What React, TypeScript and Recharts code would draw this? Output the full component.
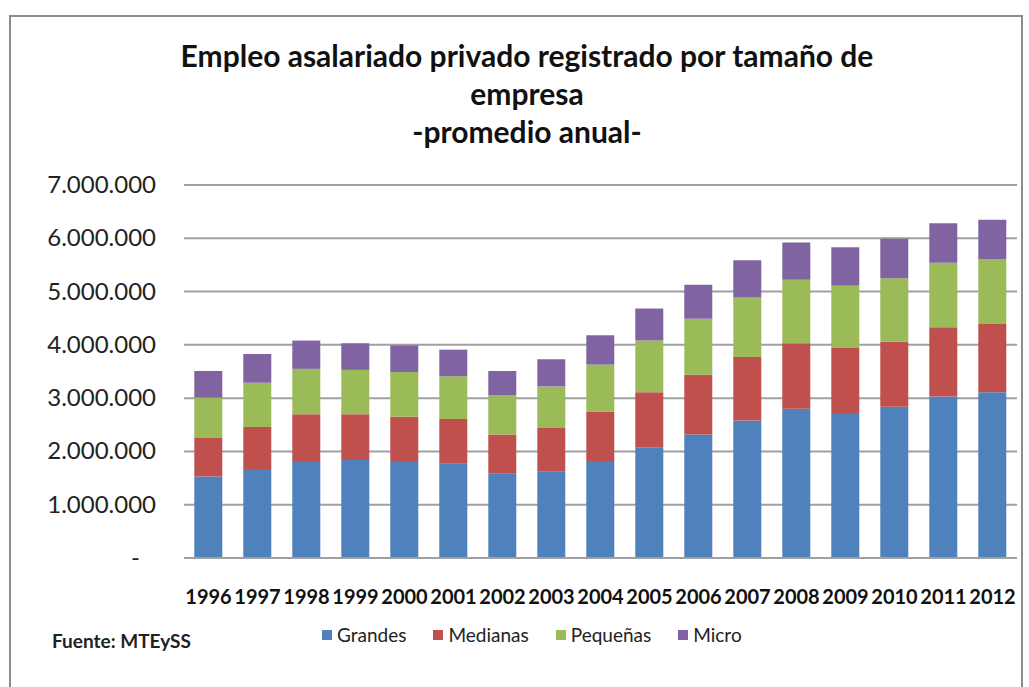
import { BarChart, Bar, XAxis, YAxis, CartesianGrid, Legend } from 'recharts'

const YEARS = ['1996', '1997', '1998', '1999', '2000', '2001', '2002', '2003', '2004', '2005', '2006', '2007', '2008', '2009', '2010', '2011', '2012']
const GRANDES = [1530000, 1670000, 1820000, 1840000, 1820000, 1770000, 1580000, 1620000, 1820000, 2080000, 2320000, 2580000, 2800000, 2720000, 2840000, 3030000, 3110000]
const MEDIANAS = [720000, 790000, 880000, 860000, 830000, 840000, 740000, 820000, 930000, 1030000, 1120000, 1190000, 1230000, 1220000, 1220000, 1300000, 1280000]
const PEQUENAS = [760000, 830000, 850000, 830000, 840000, 800000, 740000, 780000, 880000, 970000, 1050000, 1120000, 1190000, 1170000, 1190000, 1210000, 1220000]
const MICRO = [500000, 540000, 530000, 500000, 500000, 500000, 450000, 510000, 550000, 600000, 640000, 700000, 700000, 720000, 740000, 740000, 740000]
const Y_TICKS = [0, 1000000, 2000000, 3000000, 4000000, 5000000, 6000000, 7000000]

const SERIES = [
  { key: 'Grandes', color: '#4F81BD' },
  { key: 'Medianas', color: '#C0504D' },
  { key: 'Pequeñas', color: '#9BBB59' },
  { key: 'Micro', color: '#8064A2' },
]

const data = YEARS.map((year, i) => ({
  year,
  Grandes: GRANDES[i],
  Medianas: MEDIANAS[i],
  Pequeñas: PEQUENAS[i],
  Micro: MICRO[i],
}))

const FONT = 'Lato, "Open Sans", sans-serif'

const fmt = (v: number) => String(v).replace(/\B(?=(\d{3})+(?!\d))/g, '.')

function YTick({ x, y, payload }: any) {
  const v = payload.value as number
  return (
    <text
      x={v === 0 ? x - 36 : x - 20}
      y={y}
      dy={8}
      textAnchor="end"
      fontSize={24}
      fontFamily={FONT}
      fill="#222"
    >
      {v === 0 ? '-' : fmt(v)}
    </text>
  )
}

function LegendContent() {
  return (
    <div style={{ display: 'flex', fontFamily: FONT, fontSize: 19, color: '#222' }}>
      {SERIES.map((s) => (
        <div key={s.key} style={{ display: 'flex', alignItems: 'center', marginRight: 27 }}>
          <span style={{ width: 10, height: 10, background: s.color, marginRight: 5, display: 'inline-block' }} />
          {s.key}
        </div>
      ))}
    </div>
  )
}

export default function App() {
  return (
    <div style={{ position: 'absolute', left: 0, top: 0, width: 1029, height: 687, overflow: 'hidden', background: '#fff' }}>
      <div
        style={{
          position: 'absolute',
          left: 9,
          top: 15,
          width: 1010,
          height: 700,
          border: '2px solid #8c8c8c',
        }}
      />
      <div
        style={{
          position: 'absolute',
          left: 0,
          top: 36,
          width: 1054,
          textAlign: 'center',
          fontFamily: FONT,
          fontWeight: 'bold',
          fontSize: 30,
          lineHeight: '38px',
          color: '#111',
        }}
      >
        <div>Empleo asalariado privado registrado por tamaño de</div>
        <div>empresa</div>
        <div>-promedio anual-</div>
      </div>
      <div
        style={{
          position: 'absolute',
          left: 52,
          top: 629,
          fontFamily: FONT,
          fontWeight: 'bold',
          fontSize: 19,
          color: '#222',
        }}
      >
        Fuente: MTEySS
      </div>
      <div style={{ position: 'absolute', left: 0, top: 0 }}>
        <BarChart
          width={1029}
          height={687}
          data={data}
          margin={{ top: 185, right: 12, bottom: 69, left: 0 }}
          barCategoryGap="21%"
        >
          <CartesianGrid vertical={false} stroke="#a0a0a0" strokeWidth={2} />
          <XAxis
            dataKey="year"
            axisLine={{ stroke: '#a0a0a0', strokeWidth: 2 }}
            tickLine={false}
            interval={0}
            tick={{ fontSize: 20, fontWeight: 'bold', fontFamily: FONT, fill: '#111', dy: 24 }}
            height={60}
          />
          <YAxis
            width={184}
            domain={[0, 7000000]}
            ticks={Y_TICKS}
            axisLine={false}
            tickLine={false}
            tick={<YTick />}
          />
          <Legend
            layout="horizontal"
            verticalAlign="middle"
            align="center"
            content={<LegendContent />}
            wrapperStyle={{ position: 'absolute', left: 322, top: 623, width: 520 }}
          />
          {SERIES.map((s) => (
            <Bar key={s.key} dataKey={s.key} stackId="a" fill={s.color} isAnimationActive={false} />
          ))}
        </BarChart>
      </div>
    </div>
  )
}
